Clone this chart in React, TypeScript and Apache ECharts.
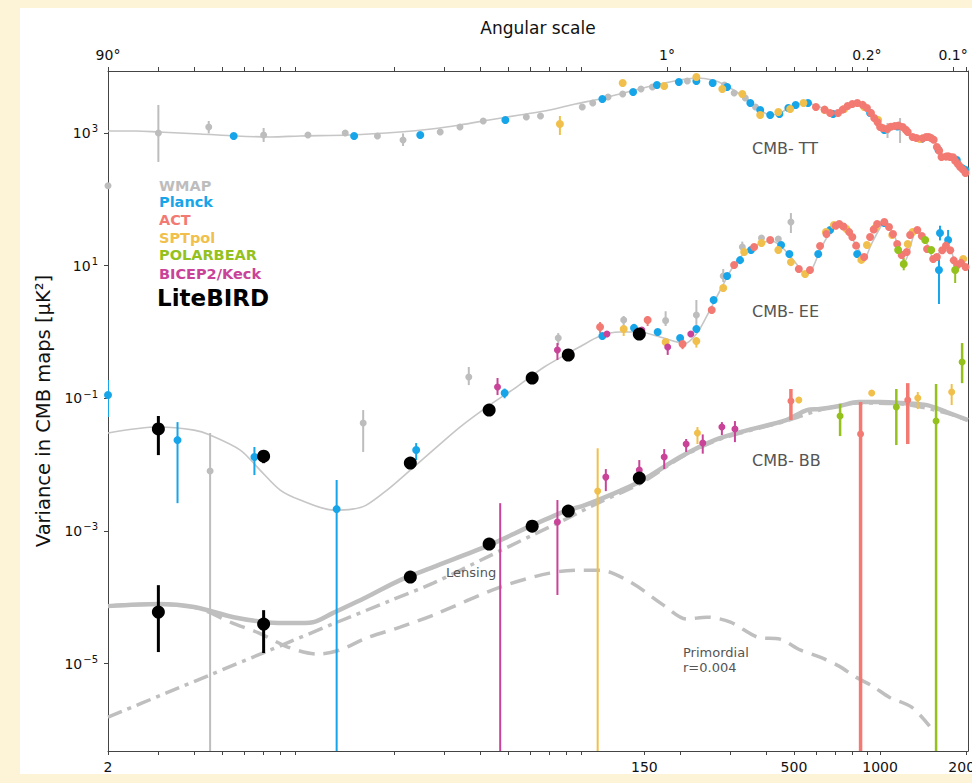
import React, { useEffect, useRef } from 'react';
import * as echarts from 'echarts';

// ---------- axis ranges & ticks ----------
const X_MIN = 2;
const X_MAX = 2030;
const Y_MIN = 4.8e-7;
const Y_MAX = 8600;

const X_TICKS = [2, 3, 4, 5, 6, 7, 8, 9, 20, 30, 40, 50, 60, 70, 80, 90, 150, 200, 300, 400, 500, 600, 700, 800, 900, 1000, 2000];
const X_LABELS = [2, 150, 500, 1000, 2000];
const TOP_TICKS = [2, 3, 4, 5, 6, 7, 8, 9, 20, 30, 40, 50, 60, 70, 80, 90, 180, 200, 300, 400, 500, 600, 700, 800, 900, 1800, 2000];
const TOP_LABELS = [2, 180, 900, 1800];
const TOP_LABEL_TEXT = ['90°', '1°', '0.2°', '0.1°'];
const Y_TICKS = [1e-5, 1e-3, 1e-1, 1e1, 1e3];

// ---------- theory curves [ell, D_ell] ----------
const TT_THEORY = [[2, 1070], [2.5, 1070], [3, 1035], [4.2, 966], [5.6, 901], [7.4, 871], [9.4, 901], [14, 933], [21, 1035], [27, 1150], [34, 1320], [43, 1570], [55, 1870], [70, 2220], [86, 2735], [105, 3260], [123, 3870], [144, 4610], [170, 5480], [200, 6300], [228, 6760], [260, 6300], [287, 5300], [319, 4010], [352, 2940], [381, 2220], [413, 1870], [448, 2000], [485, 2470], [547, 2830], [617, 2470], [690, 2000], [770, 2470], [832, 2830], [900, 2470], [961, 1740], [1035, 1230], [1111, 1275], [1175, 1275], [1274, 966], [1380, 812], [1472, 871], [1545, 784], [1640, 466], [1760, 450], [1905, 366], [2030, 250]];
const EE_THEORY = [[2, 0.0299], [3, 0.0368], [4, 0.0331], [4.55, 0.0279], [5.8, 0.01655], [6.8, 0.00826], [8, 0.00412], [9.4, 0.00292], [12.3, 0.00206], [14.3, 0.00213], [16, 0.00245], [18.9, 0.00412], [22.8, 0.00826], [27.4, 0.01655], [34, 0.0368], [42.2, 0.0737], [53.6, 0.1475], [67, 0.296], [89, 0.592], [105, 0.867], [123, 0.997], [144, 1.0], [170, 0.837], [195, 0.704], [206, 0.657], [228, 0.929], [250, 1.86], [280, 4.76], [309, 10.2], [345, 17.2], [385, 21.9], [417, 23.5], [440, 21.2], [478, 15.0], [520, 9.53], [547, 7.47], [578, 8.89], [625, 19.1], [690, 38.2], [720, 41.0], [763, 34.5], [843, 17.2], [880, 12.6], [930, 20.5], [1013, 41.0], [1035, 43.9], [1106, 32.1], [1187, 15.0], [1215, 11.3], [1320, 31.0], [1350, 33.3], [1460, 21.2], [1545, 12.6], [1680, 19.1], [1770, 17.2], [1860, 8.6], [1960, 10.6], [2030, 9.5]];
const BB_TOTAL = [[2, 7.34e-5], [3, 7.87e-5], [4, 7.1e-5], [5.5, 5.0e-5], [7.2, 4.2e-5], [8.9, 4.07e-5], [10.4, 4.2e-5], [12.2, 5.75e-5], [16, 1.0e-4], [21, 1.81e-4], [27.4, 2.85e-4], [43, 6.1e-4], [61, 1.22e-3], [81, 2.06e-3], [91, 2.37e-3], [116, 3.59e-3], [146, 5.64e-3], [200, 0.013], [264, 0.0234], [345, 0.0331], [470, 0.0469], [555, 0.0664], [615, 0.0687], [720, 0.0762], [840, 0.0877], [1005, 0.0877], [1190, 0.0847], [1460, 0.0789], [1710, 0.0619], [2030, 0.0469]];
const BB_LENSING = [[2, 1.56e-6], [3.2, 3.6e-6], [4.57, 6.8e-6], [7.2, 1.53e-5], [12.3, 4.0e-5], [19.3, 8.8e-5], [27.4, 1.63e-4], [43, 4.17e-4], [61, 8.65e-4], [81, 1.56e-3], [105, 2.72e-3], [146, 5.26e-3], [200, 0.0126], [264, 0.0226], [345, 0.032], [470, 0.0453], [615, 0.0664], [840, 0.0847], [1190, 0.082], [1710, 0.06], [2030, 0.0465]];
const BB_PRIMORDIAL = [[2, 7.34e-5], [3, 7.87e-5], [4.1, 6.86e-5], [5.45, 4.07e-5], [6.75, 2.88e-5], [8.5, 1.77e-5], [10.8, 1.39e-5], [12.9, 1.59e-5], [16, 2.42e-5], [21, 3.54e-5], [27.4, 5.37e-5], [47, 1.42e-4], [70, 2.31e-4], [91, 2.56e-4], [105, 2.56e-4], [134, 1.69e-4], [175, 7.6e-5], [211, 4.68e-5], [248, 5.01e-5], [300, 4.21e-5], [373, 2.5e-5], [447, 2.33e-5], [528, 1.59e-5], [617, 1.25e-5], [719, 9.14e-6], [823, 6.24e-6], [942, 4.56e-6], [1077, 3.11e-6], [1290, 2.2e-6], [1490, 1.14e-6]];

// ---------- measurements: points [ell, D_ell], error bars [ell, low, high] ----------
const WMAP_TT = [[2, 160], [3, 1000], [4.5, 1230], [7, 933], [10, 933], [13.5, 1000], [17.5, 901], [21.5, 784], [29, 1035], [34, 1230], [41, 1520], [58, 1740], [65, 1800], [91, 2470], [99, 2830], [112, 3490], [126, 3870], [146, 4610], [160, 4940], [212, 6080], [286, 5300], [309, 4010], [338, 3370], [367, 2470], [1062, 1110], [1175, 1275]];
const WMAP_TT_ERR = [[3, 366, 2645], [4.5, 985, 1517], [7, 731, 1190], [21.5, 637, 985], [1062, 840, 1415], [1175, 707, 1680]];
const PLANCK_TT = [[5.5, 901], [14.5, 901], [24.7, 933], [49, 1570], [107, 3260], [137, 4150], [166, 5300], [198, 5870], [228, 6080], [260, 5680], [292, 4940], [352, 2830], [381, 2220], [413, 1870], [445, 1935], [478, 2380], [507, 2645], [560, 2830], [685, 1935], [923, 2003], [1035, 1110], [1150, 1250], [1400, 820], [1600, 560], [1855, 392], [1950, 290], [1990, 277]];
const ACT_TT = [[597, 2470], [640, 2250], [669, 2003], [713, 2003], [740, 2250], [770, 2550], [800, 2735], [833, 2830], [870, 2650], [900, 2380], [930, 2000], [954, 1680], [980, 1450], [1000, 1230], [1020, 1190], [1057, 1150], [1090, 1240], [1127, 1275], [1160, 1290], [1200, 1230], [1230, 1120], [1250, 1035], [1300, 871], [1340, 840], [1410, 830], [1450, 871], [1480, 870], [1508, 841], [1540, 790], [1580, 615], [1610, 540], [1640, 435], [1700, 440], [1730, 445], [1760, 435], [1800, 430], [1830, 380], [1870, 340], [1905, 307], [1950, 280], [1990, 249]];
const SPT_TT = [[76, 1367], [126, 5680], [176, 5120], [228, 7000], [281, 4610], [330, 3870], [381, 1870], [441, 2075], [485, 2300], [540, 2830], [640, 2220], [750, 2300], [880, 2466], [985, 1570], [1380, 812]];
const SPT_TT_ERR = [[76, 933, 1804]];

const WMAP_EE = [[4.55, 0.00798], [15.6, 0.0423], [36.5, 0.209], [75, 0.809], [127, 1.51], [178, 1.48], [228, 1.8], [283, 6.97], [330, 19.1], [385, 26.1], [441, 25.2], [488, 45.5]];
const WMAP_EE_ERR = [[4.55, Y_MIN, 0.0299], [15.6, 0.0155, 0.0664], [36.5, 0.158, 0.296], [75, 0.634, 0.96], [127, 1.23, 1.74], [178, 1.23, 2.05], [228, 1.23, 3.03], [283, 5.66, 8.89], [330, 16, 23], [488, 31, 62]];
const PLANCK_EE = [[2, 0.1117], [3.5, 0.0234], [6.5, 0.013], [12.6, 0.00213], [23.9, 0.01655], [48.7, 0.12], [107, 0.867], [138, 1.15], [167, 1.0], [200, 0.809], [228, 1.11], [262, 3.03], [292, 6.97], [324, 12.1], [354, 17.2], [451, 20.5], [482, 15.0], [608, 15.0], [669, 34.5], [832, 15.0], [1035, 43.9], [1620, 31], [1607, 8.59], [1730, 24.3]];
const PLANCK_EE_ERR = [[2, 0.0521, 0.188], [3.5, 0.00262, 0.0437], [6.5, 0.00695, 0.0184], [12.6, Y_MIN, 0.00584], [23.9, 0.0117, 0.0211], [48.7, 0.1, 0.14], [1620, 24, 40], [1607, 2.64, 12.6], [1730, 19.1, 34.5]];
const ACT_EE = [[105, 1.19], [154, 1.51], [204, 0.657], [258, 2.14], [309, 10.2], [363, 19.1], [413, 24.3], [520, 8.89], [569, 8.59], [617, 19.8], [650, 30], [700, 40], [720, 42.4], [745, 39], [780, 32], [800, 27.0], [825, 20], [880, 13.5], [923, 27.0], [950, 35], [977, 42.4], [1035, 45.5], [1075, 38.2], [1110, 30], [1148, 21.2], [1190, 14.5], [1240, 16], [1274, 29.0], [1350, 34.5], [1400, 28], [1460, 17.8], [1534, 12.6], [1580, 13.5], [1650, 17], [1700, 20], [1760, 17], [1810, 12], [1860, 10.2], [1920, 11], [1990, 9.53]];
const ACT_EE_ERR = [[105, 0.96, 1.41], [154, 1.23, 1.74], [204, 0.55, 0.78]];
const SPT_EE = [[127, 1.11], [178, 0.704], [228, 0.727], [283, 4.59], [335, 16.0], [385, 21.9], [441, 17.2], [488, 11.3], [547, 7.47], [647, 32.1], [690, 41.0], [763, 35.6], [860, 12.2], [900, 20.5], [961, 36.9], [1103, 29.0], [1250, 21.2], [1300, 32.1], [1953, 12.6]];
const SPT_EE_ERR = [[127, 0.87, 1.23], [228, 0.58, 0.83]];
const PB_EE = [[1157, 17.2], [1210, 10.6], [1438, 24.3], [1510, 17.2], [1831, 8.59]];
const PB_EE_ERR = [[1831, 5.47, 10.2], [1210, 8.5, 13]];
const BK_EE = [[46, 0.1475], [74.5, 0.533], [111, 0.93], [147, 1.07], [181, 0.592], [218, 0.93]];
const BK_EE_ERR = [[46, 0.1117, 0.202], [74.5, 0.377, 0.68], [181, 0.45, 0.72]];
const LB_EE = [[3, 0.0344], [7, 0.0134], [22.8, 0.01055], [43, 0.0664], [60.8, 0.202], [81.3, 0.449], [144, 0.929]];
const LB_EE_ERR = [[3, 0.0139, 0.054], [7, 0.0105, 0.016]];

const SPT_BB = [[103, 3.98e-3], [230, 0.0299], [520, 0.094], [935, 0.12], [1355, 0.1007], [1780, 0.124]];
const SPT_BB_ERR = [[103, Y_MIN, 0.0177], [230, 0.0204, 0.0368], [1355, 0.0687, 0.124], [1780, 0.0789, 0.164]];
const BK_BB = [[74.5, 1.36e-3], [110, 6.47e-3], [144, 8.26e-3], [176, 0.013], [210, 0.0204], [240, 0.0211], [280, 0.0368], [311, 0.0343]];
const BK_BB_ERR = [[47, Y_MIN, 2.62e-3], [74.5, 1.08e-4, 2.92e-3], [110, 3.98e-3, 8.55e-3], [144, 6.71e-3, 0.0117], [176, 0.00855, 0.0171], [210, 0.0155, 0.0243], [240, 0.0146, 0.0285], [280, 0.0279, 0.0437], [311, 0.0218, 0.0453]];
const ACT_BB = [[488, 0.0908], [855, 0.0289], [1250, 0.094]];
const ACT_BB_ERR = [[488, 0.0469, 0.138], [855, Y_MIN, 0.0877], [1250, 0.0204, 0.169]];
const PB_BB = [[725, 0.054], [1140, 0.0737], [1570, 0.0453], [1936, 0.352]];
const PB_BB_ERR = [[725, 0.0269, 0.0818], [1140, 0.0197, 0.138], [1570, Y_MIN, 0.164], [1936, 0.169, 0.68]];
const LB_BB = [[3, 5.96e-5], [7, 3.93e-5], [22.8, 2.01e-4], [43, 6.33e-4], [60.8, 1.18e-3], [81.3, 1.99e-3], [144, 6.25e-3]];
const LB_BB_ERR = [[3, 1.49e-5, 1.52e-4], [7, 1.44e-5, 6.38e-5]];

// ---------- legend ----------
const LEGEND_NAMES = ['WMAP', 'Planck', 'ACT', 'SPTpol', 'POLARBEAR', 'BICEP2/Keck'];

const C = {
  wmap: '#bdbdbd',
  planck: '#17a5ea',
  act: '#f27a72',
  spt: '#f1c04c',
  pb: '#94c11c',
  bk: '#c94499',
  lb: '#000000',
  theory: '#c6c6c6',
  bb: '#bfbfbf',
  text: '#555555',
};
const LEGEND_COLORS = [C.wmap, C.planck, C.act, C.spt, C.pb, C.bk];

const FONT = '"DejaVu Sans", sans-serif';

function errorBars(data: number[][], color: string, width: number, z = 3) {
  return {
    type: 'custom',
    data,
    z,
    silent: true,
    clip: true,
    encode: { x: 0, y: [1, 2] },
    renderItem: (_p: any, api: any) => {
      const l = api.value(0);
      const a = api.coord([l, api.value(1)]);
      const b = api.coord([l, api.value(2)]);
      return {
        type: 'line',
        shape: { x1: a[0], y1: a[1], x2: b[0], y2: b[1] },
        style: { stroke: color, lineWidth: width },
      };
    },
  };
}

function dots(data: number[][], color: string, size: number, z = 4) {
  return { type: 'scatter', data, symbolSize: size, itemStyle: { color, opacity: 1 }, z, silent: true };
}

function curve(data: number[][], color: string, width: number, type: any, z = 1) {
  return {
    type: 'line',
    data,
    showSymbol: false,
    symbol: 'none',
    smooth: 0.3,
    lineStyle: { color, width, type },
    z,
    silent: true,
  };
}

export default function App() {
  const ref = useRef<HTMLDivElement>(null);

  useEffect(() => {
    document.body.style.margin = '0';
    if (!ref.current) return;
    const chart = echarts.init(ref.current, undefined, { renderer: 'svg' });

    const axisLine = { show: true, lineStyle: { color: '#444', width: 1 } };
    const tickStyle = { show: true, length: 4, lineStyle: { color: '#444', width: 1 } };

    const legendTexts: any[] = LEGEND_NAMES.map((name, i) => ({
      type: 'text',
      x: 159,
      y: [185.5, 201.5, 219.5, 237.5, 255, 274][i],
      z: 100,
      style: {
        text: name,
        fill: LEGEND_COLORS[i],
        font: `bold 14.5px ${FONT}`,
        textVerticalAlign: 'middle',
        verticalAlign: 'middle',
      },
    }));
    legendTexts.push({
      type: 'text',
      x: 157,
      y: 298,
      z: 100,
      style: { text: 'LiteBIRD', fill: C.lb, font: `bold 23px ${FONT}`, textVerticalAlign: 'middle', verticalAlign: 'middle' },
    });

    const annot = (text: string, x: number, y: number, size: number) => ({
      type: 'text',
      x,
      y,
      z: 100,
      style: { text, fill: C.text, font: `${size}px ${FONT}`, textVerticalAlign: 'middle', verticalAlign: 'middle' },
    });

    const option: any = {
      animation: false,
      backgroundColor: '#fdf3d7',
      textStyle: { fontFamily: FONT },
      grid: { left: 108, right: 4, top: 71, bottom: 32, outerBoundsMode: 'none', containLabel: false },
      graphic: [
        { type: 'rect', z: -10, silent: true, shape: { x: 20, y: 8, width: 952, height: 766 }, style: { fill: '#ffffff' } },
        ...legendTexts,
        annot('CMB- TT', 752, 148, 16),
        annot('CMB- EE', 752, 311, 16),
        annot('CMB- BB', 752, 460, 16),
        annot('Lensing', 446, 572, 13),
        annot('Primordial', 683, 652, 13),
        annot('r=0.004', 683, 667, 13),
      ],
      xAxis: [
        {
          type: 'log',
          min: X_MIN,
          max: X_MAX,
          position: 'bottom',
          axisLine,
          axisTick: { ...tickStyle, customValues: X_TICKS },
          minorTick: { show: false },
          splitLine: { show: false },
          axisLabel: {
            customValues: X_LABELS,
            color: '#111',
            fontSize: 14,
            fontFamily: FONT,
            margin: 9,
            formatter: (v: number) => String(Math.round(v)),
          },
        },
        {
          type: 'log',
          min: X_MIN,
          max: X_MAX,
          position: 'top',
          name: 'Angular scale',
          nameLocation: 'middle',
          nameGap: 35,
          nameTextStyle: { fontSize: 17, color: '#111', fontFamily: FONT },
          axisLine,
          axisTick: { ...tickStyle, customValues: TOP_TICKS },
          minorTick: { show: false },
          splitLine: { show: false },
          axisLabel: {
            customValues: TOP_LABELS,
            color: '#111',
            fontSize: 14,
            fontFamily: FONT,
            margin: 9,
            formatter: (v: number) => {
              const i = TOP_LABELS.findIndex((t) => Math.abs(Math.log10(t / v)) < 0.01);
              return i >= 0 ? TOP_LABEL_TEXT[i] : '';
            },
          },
        },
      ],
      yAxis: [
        {
          type: 'log',
          min: Y_MIN,
          max: Y_MAX,
          position: 'left',
          name: 'Variance in CMB maps [μK²]',
          nameLocation: 'middle',
          nameGap: 54,
          nameRotate: 90,
          nameTextStyle: { fontSize: 19.5, color: '#111', fontFamily: FONT },
          axisLine,
          axisTick: { ...tickStyle, customValues: Y_TICKS },
          minorTick: { show: false },
          splitLine: { show: false },
          axisLabel: {
            customValues: Y_TICKS,
            color: '#111',
            fontFamily: FONT,
            margin: 10,
            formatter: (v: number) => {
              const e = Math.round(Math.log10(v));
              return '{b|10}{s|' + (e < 0 ? '−' + Math.abs(e) : String(e)) + '}';
            },
            rich: {
              b: { fontSize: 14, fontFamily: FONT, color: '#111' },
              s: { fontSize: 10, fontFamily: FONT, color: '#111', padding: [0, 0, 8, 1] },
            },
          },
        },
        {
          type: 'log',
          min: Y_MIN,
          max: Y_MAX,
          position: 'right',
          axisLine,
          axisTick: { show: false },
          axisLabel: { show: false },
          splitLine: { show: false },
        },
      ],
      series: [
        curve(TT_THEORY, C.theory, 1.6, 'solid'),
        curve(EE_THEORY, C.theory, 1.6, 'solid'),
        curve(BB_PRIMORDIAL, C.bb, 3.5, [16, 9]),
        curve(BB_LENSING, C.bb, 3.5, [15, 6, 4, 6]),
        curve(BB_TOTAL, C.bb, 4.5, 'solid', 2),

        errorBars(WMAP_TT_ERR, C.wmap, 2),
        errorBars(SPT_TT_ERR, C.spt, 2),
        errorBars(WMAP_EE_ERR, C.wmap, 2),
        errorBars(PLANCK_EE_ERR, C.planck, 2),
        errorBars(ACT_EE_ERR, C.act, 2),
        errorBars(SPT_EE_ERR, C.spt, 2),
        errorBars(PB_EE_ERR, C.pb, 2),
        errorBars(BK_EE_ERR, C.bk, 2),
        errorBars(SPT_BB_ERR, C.spt, 2),
        errorBars(BK_BB_ERR, C.bk, 2),
        errorBars(ACT_BB_ERR, C.act, 3.5),
        errorBars(PB_BB_ERR, C.pb, 2.5),
        errorBars(LB_EE_ERR, C.lb, 3, 5),
        errorBars(LB_BB_ERR, C.lb, 3, 5),

        dots(WMAP_TT, C.wmap, 7),
        dots(PLANCK_TT, C.planck, 8),
        dots(SPT_TT, C.spt, 8),
        dots(ACT_TT, C.act, 8),
        dots(WMAP_EE, C.wmap, 7),
        dots(PLANCK_EE, C.planck, 8),
        dots(SPT_EE, C.spt, 8),
        dots(ACT_EE, C.act, 8),
        dots(PB_EE, C.pb, 8),
        dots(BK_EE, C.bk, 7),
        dots(SPT_BB, C.spt, 7),
        dots(BK_BB, C.bk, 7),
        dots(ACT_BB, C.act, 7),
        dots(PB_BB, C.pb, 7),
        dots(LB_EE, C.lb, 13, 6),
        dots(LB_BB, C.lb, 13, 6),
      ],
    };

    chart.setOption(option);
    return () => chart.dispose();
  }, []);

  return <div ref={ref} style={{ width: 972, height: 783 }} />;
}
